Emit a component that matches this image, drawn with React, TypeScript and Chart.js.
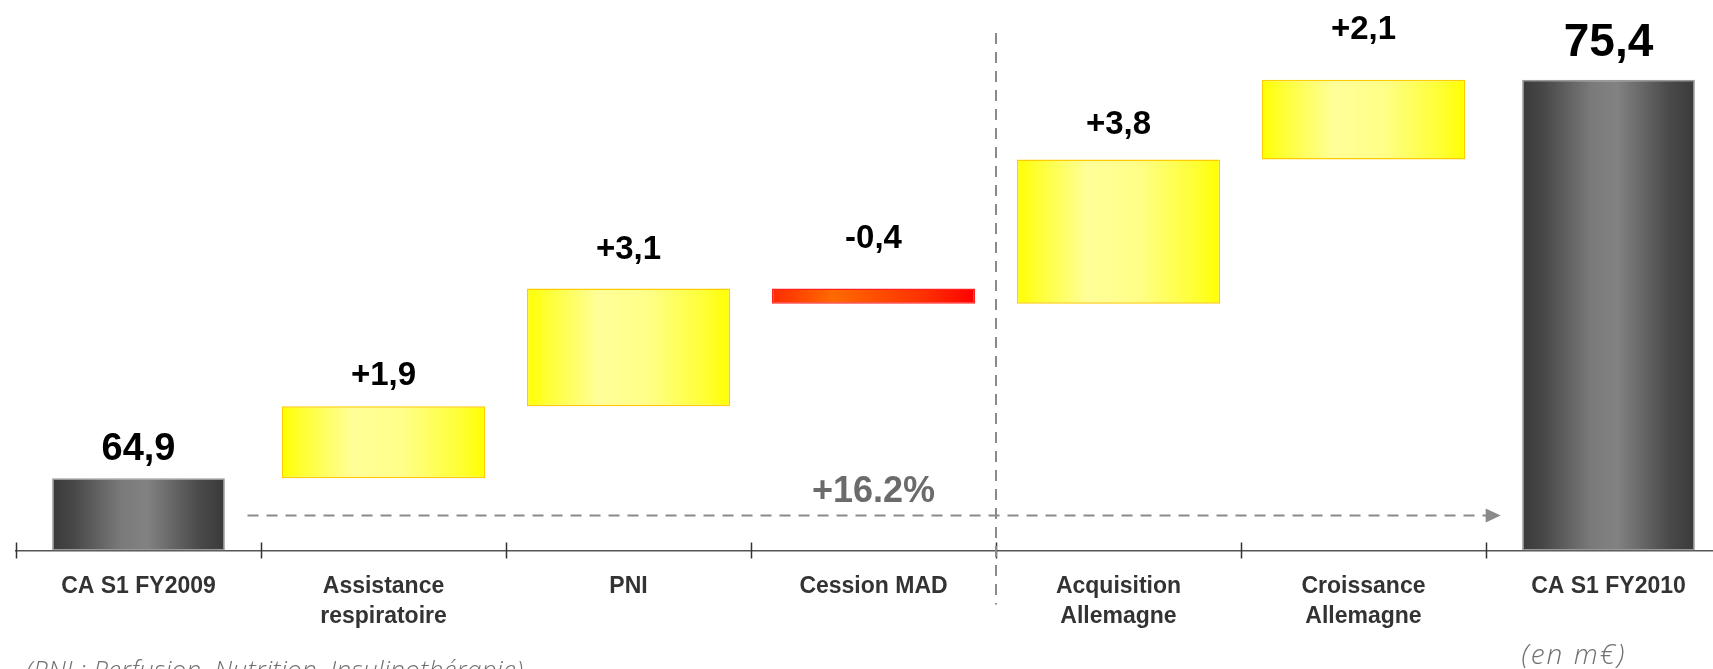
import React, { useEffect, useRef } from 'react';
import { Chart, registerables } from 'chart.js';

Chart.register(...registerables);

// ---------- data ----------
const categories: string[][] = [
  ['CA S1 FY2009'],
  ['Assistance', 'respiratoire'],
  ['PNI'],
  ['Cession MAD'],
  ['Acquisition', 'Allemagne'],
  ['Croissance', 'Allemagne'],
  ['CA S1 FY2010'],
];
const totals: (number | null)[] = [64.9, null, null, null, null, null, 75.4];
const deltas: (number | null)[] = [null, 1.9, 3.1, -0.4, 3.8, 2.1, null];
const valueLabels = ['64,9', '+1,9', '+3,1', '-0,4', '+3,8', '+2,1', '75,4'];
const growthLabel = '+16.2%';
const unitNote = '(en m€)';
const footnote = '(PNI : Perfusion, Nutrition, Insulinothérapie)';
const Y_MIN = 63;
const Y_MAX = 77.5;

// label lift above each bar (px) – layout only
const labelGaps = [18, 21, 30, 41, 25, 41, 24];
const labelSizes = [38, 33, 33, 33, 33, 33, 46];

// floating ranges for the variation bars
let running = totals[0] as number;
const deltaRanges = deltas.map((d) => {
  if (d == null) return null;
  const r: [number, number] = [running, running + d];
  running += d;
  return r;
});

const TOTAL_PCT = 0.705;
const DELTA_PCT = 0.83;

function makeGradient(ctx: any, pct: number, stops: [number, string][], fallback: string) {
  const chart = ctx.chart;
  const xs = chart.scales?.x;
  if (!xs || !chart.chartArea || ctx.dataIndex == null) return fallback;
  const cw = xs.width / categories.length;
  const w = cw * pct;
  const cx = xs.getPixelForValue(ctx.dataIndex);
  const g = chart.ctx.createLinearGradient(cx - w / 2, 0, cx + w / 2, 0);
  stops.forEach(([o, c]) => g.addColorStop(o, c));
  return g;
}

const grayStops: [number, string][] = [
  [0, '#3a3a3a'],
  [0.12, '#474747'],
  [0.4, '#7a7a7a'],
  [0.55, '#828282'],
  [0.85, '#4a4a4a'],
  [1, '#3a3a3a'],
];
const yellowStops: [number, string][] = [
  [0, '#ffff00'],
  [0.1, '#ffff33'],
  [0.35, '#ffff99'],
  [0.6, '#ffff88'],
  [0.88, '#ffff33'],
  [1, '#ffff00'],
];
const redStops: [number, string][] = [
  [0, '#ff2a00'],
  [0.3, '#ff6a00'],
  [0.75, '#ff3000'],
  [1, '#ff0000'],
];

const decorPlugin = {
  id: 'decor',
  afterDatasetsDraw(chart: any) {
    const { ctx, chartArea } = chart;
    const xs = chart.scales.x;
    const ys = chart.scales.y;
    const n = categories.length;
    const cw = xs.width / n;
    const axisY = chartArea.bottom;

    ctx.save();
    // tick marks crossing the axis
    ctx.strokeStyle = '#333333';
    ctx.lineWidth = 1.5;
    for (let i = 0; i <= n; i++) {
      const x = Math.round(xs.left + i * cw) + 0.5;
      ctx.beginPath();
      ctx.moveTo(x, axisY - 8);
      ctx.lineTo(x, axisY + 8);
      ctx.stroke();
    }

    // vertical dashed separator between Cession MAD and Acquisition
    const sepX = (xs.getPixelForValue(3) + xs.getPixelForValue(4)) / 2;
    ctx.strokeStyle = '#8a8a8a';
    ctx.lineWidth = 2;
    ctx.setLineDash([11, 8]);
    ctx.beginPath();
    ctx.moveTo(sepX, chartArea.top + 33);
    ctx.lineTo(sepX, axisY + 54);
    ctx.stroke();

    // horizontal dashed growth arrow
    const arrowY = axisY - 35;
    const x0 = xs.getPixelForValue(0) + cw * 0.445;
    const x1 = xs.getPixelForValue(n - 1) - cw * 0.44;
    ctx.beginPath();
    ctx.moveTo(x0, arrowY);
    ctx.lineTo(x1 - 14, arrowY);
    ctx.stroke();
    ctx.setLineDash([]);
    ctx.fillStyle = '#8a8a8a';
    ctx.beginPath();
    ctx.moveTo(x1, arrowY);
    ctx.lineTo(x1 - 15, arrowY - 7);
    ctx.lineTo(x1 - 15, arrowY + 7);
    ctx.closePath();
    ctx.fill();

    // growth label
    ctx.font = 'bold 36px "Liberation Sans", Arial, sans-serif';
    ctx.fillStyle = '#6b6b6b';
    ctx.textAlign = 'center';
    ctx.textBaseline = 'alphabetic';
    ctx.fillText(growthLabel, xs.getPixelForValue(3), arrowY - 14);

    // value labels
    ctx.fillStyle = '#000000';
    for (let i = 0; i < n; i++) {
      let top: number;
      if (totals[i] != null) {
        top = totals[i] as number;
      } else {
        const r = deltaRanges[i] as [number, number];
        top = Math.max(r[0], r[1]);
      }
      ctx.font = `bold ${labelSizes[i]}px "Liberation Sans", Arial, sans-serif`;
      ctx.fillText(valueLabels[i], xs.getPixelForValue(i), ys.getPixelForValue(top) - labelGaps[i]);
    }

    // unit note and footnote
    ctx.fillStyle = '#707070';
    ctx.textAlign = 'left';
    ctx.font = 'italic 300 28px "Open Sans", sans-serif';
    try {
      (ctx as any).letterSpacing = '2px';
    } catch (e) {}
    ctx.fillText(unitNote, xs.getPixelForValue(n - 1) - 87, axisY + 113);
    ctx.font = 'italic 300 26px "Open Sans", sans-serif';
    try {
      (ctx as any).letterSpacing = '0.3px';
    } catch (e) {}
    ctx.fillText(footnote, xs.left + 10, axisY + 128);
    ctx.restore();
  },
};

export default function App() {
  const ref = useRef<HTMLCanvasElement | null>(null);

  useEffect(() => {
    if (!ref.current) return;
    const chart = new Chart(ref.current, {
      type: 'bar',
      data: {
        labels: categories,
        datasets: [
          {
            label: 'Totaux',
            data: totals as any,
            base: Y_MIN,
            grouped: false,
            barPercentage: TOTAL_PCT,
            categoryPercentage: 1,
            backgroundColor: (c: any) => makeGradient(c, TOTAL_PCT, grayStops, '#666666'),
            borderColor: '#9a9a9a',
            borderWidth: 1.5,
            borderSkipped: false,
          } as any,
          {
            label: 'Variations',
            data: deltaRanges as any,
            grouped: false,
            barPercentage: DELTA_PCT,
            categoryPercentage: 1,
            backgroundColor: (c: any) => {
              const d = deltas[c.dataIndex];
              return d != null && d < 0
                ? makeGradient(c, DELTA_PCT, redStops, '#ff3300')
                : makeGradient(c, DELTA_PCT, yellowStops, '#ffff66');
            },
            borderColor: (c: any) => {
              const d = deltas[c.dataIndex];
              return d != null && d < 0 ? '#ff2020' : '#ffcc00';
            },
            borderWidth: 1.5,
            borderSkipped: false,
          } as any,
        ],
      },
      options: {
        responsive: false,
        animation: false,
        layout: { padding: { left: 16, right: 9, top: 0, bottom: 0 } },
        plugins: {
          legend: { display: false },
          tooltip: { enabled: false },
          title: { display: false },
        },
        scales: {
          x: {
            type: 'category',
            offset: true,
            grid: { display: false, drawTicks: false },
            border: { display: true, color: '#555555', width: 1.5 },
            ticks: {
              autoSkip: false,
              maxRotation: 0,
              minRotation: 0,
              padding: 21,
              color: '#333333',
              font: { family: '"Liberation Sans", Arial, sans-serif', size: 23, weight: 'bold', lineHeight: 1.3 },
            },
            afterFit: (scale: any) => {
              scale.height = 118.5;
            },
          },
          y: {
            display: false,
            min: Y_MIN,
            max: Y_MAX,
          },
        },
      } as any,
      plugins: [decorPlugin],
    });
    return () => chart.destroy();
  }, []);

  return (
    <div
      style={{
        position: 'fixed',
        left: 0,
        top: 0,
        width: 1713,
        height: 669,
        overflow: 'hidden',
        background: '#ffffff',
      }}
    >
      <canvas ref={ref} width={1740} height={669} style={{ display: 'block', width: 1740, height: 669 }} />
    </div>
  );
}
